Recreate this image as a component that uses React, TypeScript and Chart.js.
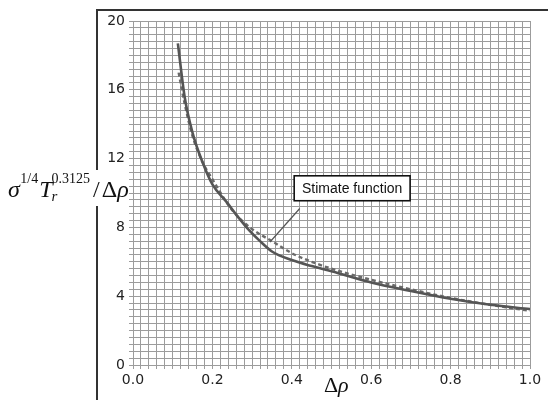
import React, { useEffect, useRef } from "react";
import { Chart, registerables } from "chart.js";

Chart.register(...registerables);

// ---- Data ----
const solidX = [0.113, 0.13, 0.15, 0.175, 0.2, 0.235, 0.265, 0.29, 0.32, 0.35, 0.4, 0.45, 0.5, 0.6, 0.7, 0.8, 0.9, 1.0];
const solidY = [18.7, 15.6, 13.5, 11.8, 10.5, 9.5, 8.6, 7.9, 7.2, 6.6, 6.1, 5.75, 5.45, 4.8, 4.3, 3.85, 3.5, 3.25];

const dashedX = [0.115, 0.13, 0.15, 0.175, 0.2, 0.25, 0.3, 0.35, 0.4, 0.45, 0.5, 0.6, 0.7, 0.8, 0.9, 1.0];
const dashedY = [17.0, 15.2, 13.3, 11.8, 10.8, 9.0, 7.9, 7.2, 6.5, 6.0, 5.6, 4.95, 4.4, 3.9, 3.5, 3.15];

const xMin = 0;
const xMax = 1;
const xGridStep = 0.02;
const xLabelStep = 0.2;
const yMin = 0;
const yMax = 20;
const yGridStep = 0.4;
const yLabelStep = 4;

const annotationText = "Stimate function";
// annotation box corners and leader line, in data units
const annotationBox = { x0: 0.406, y0: 11.0, x1: 0.698, y1: 9.55 };
const annotationLeader = { x0: 0.42, y0: 9.1, x1: 0.345, y1: 7.15 };

const onStep = (v: number, step: number) => {
  const k = Math.round(v / step);
  return Math.abs(v - k * step) < 1e-6 ? k : null;
};

const decorPlugin = {
  id: "decor",
  afterDraw(chart: any) {
    const ctx = chart.ctx as CanvasRenderingContext2D;
    const xs = chart.scales.x;
    const ys = chart.scales.y;
    ctx.save();

    // outer frame (top and left, broken by the y title)
    ctx.strokeStyle = "#333";
    ctx.lineWidth = 2;
    ctx.beginPath();
    ctx.moveTo(548, 10);
    ctx.lineTo(97, 10);
    ctx.lineTo(97, 170);
    ctx.moveTo(97, 206);
    ctx.lineTo(97, 400);
    ctx.stroke();

    // y axis title: σ^{1/4} T_r^{0.3125} / Δρ
    ctx.fillStyle = "#111";
    ctx.textBaseline = "alphabetic";
    ctx.textAlign = "left";
    const fam = "'Liberation Serif', 'DejaVu Serif', serif";
    const big = `24px ${fam}`;
    const bigI = `italic 24px ${fam}`;
    const small = `14px ${fam}`;
    const smallI = `italic 15px ${fam}`;
    const base = 197;
    const supBase = 183;
    let x = 8;
    const put = (t: string, font: string, y: number, gapAfter = 0) => {
      ctx.font = font;
      ctx.fillText(t, x, y);
      x += ctx.measureText(t).width + gapAfter;
    };
    put("σ", bigI, base, 0.5);
    put("1/4", small, supBase, 1);
    put("T", bigI, base, -1);
    ctx.font = smallI;
    ctx.fillText("r", x, 201);
    put("0.3125", small, supBase, 3);
    put("/", big, base, 2);
    put("Δ", big, base, 0);
    put("ρ", bigI, base, 0);

    // x axis title Δρ
    ctx.font = `22px ${fam}`;
    ctx.fillText("Δ", 324, 392);
    ctx.font = `italic 22px ${fam}`;
    ctx.fillText("ρ", 338, 392);

    // annotation
    const bx0 = xs.getPixelForValue(annotationBox.x0);
    const bx1 = xs.getPixelForValue(annotationBox.x1);
    const by0 = ys.getPixelForValue(annotationBox.y0);
    const by1 = ys.getPixelForValue(annotationBox.y1);
    ctx.strokeStyle = "#555";
    ctx.lineWidth = 1.2;
    ctx.beginPath();
    ctx.moveTo(xs.getPixelForValue(annotationLeader.x0), ys.getPixelForValue(annotationLeader.y0));
    ctx.lineTo(xs.getPixelForValue(annotationLeader.x1), ys.getPixelForValue(annotationLeader.y1));
    ctx.stroke();
    ctx.fillStyle = "#fff";
    ctx.fillRect(bx0, by0, bx1 - bx0, by1 - by0);
    ctx.strokeStyle = "#111";
    ctx.lineWidth = 1.6;
    ctx.strokeRect(bx0, by0, bx1 - bx0, by1 - by0);
    ctx.fillStyle = "#111";
    ctx.font = "14px 'Liberation Sans', Arial, sans-serif";
    ctx.textAlign = "center";
    ctx.textBaseline = "middle";
    ctx.fillText(annotationText, (bx0 + bx1) / 2, (by0 + by1) / 2 + 1);

    ctx.restore();
  },
};

export default function App() {
  const ref = useRef<HTMLCanvasElement>(null);

  useEffect(() => {
    if (!ref.current) return;
    const gridColor = "#9c9c9c";
    const tickFont = { family: "'DejaVu Sans', Verdana, sans-serif", size: 14 };
    const chart = new Chart(ref.current, {
      type: "line",
      data: {
        datasets: [
          {
            label: "data",
            data: solidX.map((x, i) => ({ x, y: solidY[i] })),
            borderColor: "#555",
            borderWidth: 2.6,
            pointRadius: 0,
            cubicInterpolationMode: "monotone",
            fill: false,
          },
          {
            label: "Stimate function",
            data: dashedX.map((x, i) => ({ x, y: dashedY[i] })),
            borderColor: "#6a6a6a",
            borderWidth: 2.4,
            borderDash: [4, 3],
            pointRadius: 0,
            cubicInterpolationMode: "monotone",
            fill: false,
          },
        ],
      },
      options: {
        animation: false,
        responsive: false,
        maintainAspectRatio: false,
        layout: { padding: { left: 0, top: 21, right: 18, bottom: 0 } },
        plugins: {
          legend: { display: false },
          tooltip: { enabled: false },
          title: { display: false },
        },
        scales: {
          x: {
            type: "linear",
            min: xMin,
            max: xMax,
            afterFit: (s: any) => {
              s.height = 35;
            },
            ticks: {
              stepSize: xGridStep,
              autoSkip: false,
              maxRotation: 0,
              minRotation: 0,
              padding: 3,
              color: "#222",
              font: tickFont,
              callback: (value: any) => {
                const k = onStep(Number(value), xLabelStep);
                return k === null ? "" : (k * xLabelStep).toFixed(1);
              },
            },
            grid: { color: gridColor, lineWidth: 1, tickLength: 4, tickColor: gridColor },
            border: { color: gridColor, width: 1 },
          },
          y: {
            type: "linear",
            min: yMin,
            max: yMax,
            afterFit: (s: any) => {
              s.width = 133;
            },
            ticks: {
              stepSize: yGridStep,
              autoSkip: false,
              padding: 4,
              color: "#222",
              font: tickFont,
              callback: (value: any) => {
                const k = onStep(Number(value), yLabelStep);
                return k === null ? "" : String(k * yLabelStep);
              },
            },
            grid: { color: gridColor, lineWidth: 1, tickLength: 4, tickColor: gridColor },
            border: { color: gridColor, width: 1 },
          },
        },
      } as any,
      plugins: [decorPlugin],
    });
    return () => chart.destroy();
  }, []);

  return (
    <div style={{ position: "fixed", left: 0, top: 0, width: 548, height: 400, background: "#fff" }}>
      <canvas ref={ref} width={548} height={400} style={{ display: "block" }} />
    </div>
  );
}
